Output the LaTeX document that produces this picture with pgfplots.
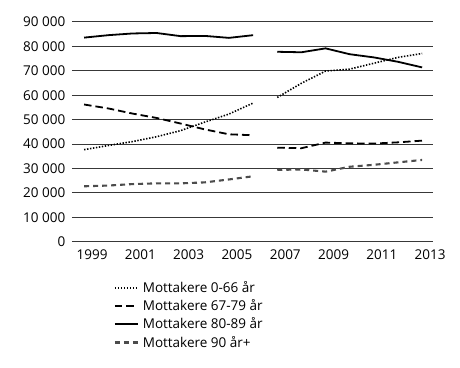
\documentclass[border=0pt]{standalone}
\usepackage{pgfplots}
\usepackage{pgfplotstable}
\pgfplotsset{compat=1.18}
\usepackage{fontspec}
\setmainfont{Open Sans}
\pgfplotstableread{
year   a      b      c      d
1999   37700  56200  83600  22700
2000   39400  54600  84600  23000
2001   41000  52500  85300  23600
2002   43000  50700  85500  23900
2003   45500  48400  84200  23900
2004   49000  46000  84300  24300
2005   52300  44000  83500  25500
2006   56800  43600  84600  26800
2006.5 nan    nan    nan    nan
2007   59100  38500  77800  29400
2008   64900  38300  77600  29600
2009   69900  40600  79200  28700
2010   70700  40300  76800  30700
2011   73100  40200  75500  31500
2012   75500  40700  73700  32500
2013   77100  41400  71400  33500
}\data
\begin{document}
\fontsize{13.5bp}{16bp}\selectfont
\begin{tikzpicture}
\useasboundingbox (-72bp,-126.3bp) rectangle (388bp,241.7bp);
\begin{axis}[
  at={(0,0)}, anchor=south west,
  scale only axis, width=361bp, height=219.7bp,
  xmin=1998.5, xmax=2013.45,
  ymin=0, ymax=90000,
  scaled y ticks=false,
  unbounded coords=jump,
  axis line style={draw=none},
  major tick length=0pt,
  ymajorgrids, grid style={black!78, line width=1bp},
  xtick={1999,2001,2003,2005,2007,2009,2011,2013},
  xticklabels={1999,2001,2003,2005,2007,2009,2011,2013},
  xticklabel style={xshift=8bp, yshift=-3bp},
  ytick={0,10000,20000,30000,40000,50000,60000,70000,80000,90000},
  yticklabels={0,10 000,20 000,30 000,40 000,50 000,60 000,70 000,80 000,90 000},
  yticklabel style={xshift=-2bp},
  clip=false,
  legend cell align=left,
  legend style={at={(0.115,-0.175)}, anchor=north west, draw=none, fill=none,
    inner sep=0pt, row sep=3.2bp, column sep=3bp,
    nodes={inner sep=1bp}},
  legend image code/.code={\draw[#1] (0bp,0bp) -- (23bp,0bp);},
]
\addplot[black, line width=1.6bp, dash pattern=on 1.4bp off 1.6bp] table[x=year,y=a] {\data};
\addlegendentry{Mottakere 0-66 år}
\addplot[black, line width=1.8bp, dash pattern=on 7.5bp off 4bp] table[x=year,y=b] {\data};
\addlegendentry{Mottakere 67-79 år}
\addplot[black, line width=1.8bp] table[x=year,y=c] {\data};
\addlegendentry{Mottakere 80-89 år}
\addplot[black!70, line width=2.1bp, dash pattern=on 5bp off 4bp] table[x=year,y=d] {\data};
\addlegendentry{Mottakere 90 år+}
\end{axis}
\end{tikzpicture}
\end{document}
